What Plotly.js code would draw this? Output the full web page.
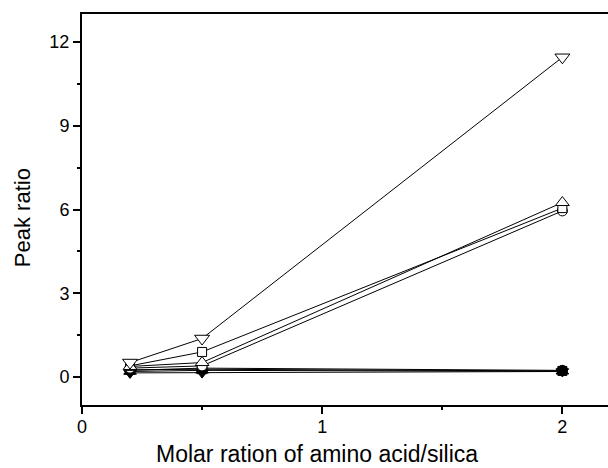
<!DOCTYPE html>
<html><head><meta charset="utf-8">
<script src="https://cdn.plot.ly/plotly-3.0.1.min.js"></script>
<style>html,body{margin:0;padding:0;background:#fff;overflow:hidden}</style>
</head><body><div id="chart" style="width:608px;height:468px"></div>
<script>
var xVals = [0.2, 0.5, 2];
var openDown = [0.52, 1.38, 11.45];
var openSquare = [0.40, 0.90, 6.05];
var openUp = [0.38, 0.52, 6.25];
var openCircle = [0.32, 0.40, 5.95];
var filledCircle = [0.24, 0.32, 0.24];
var filledSquare = [0.26, 0.28, 0.22];
var filledUp = [0.20, 0.24, 0.21];
var filledDown = [0.15, 0.16, 0.20];
var xTitle = 'Molar ration of amino acid/silica';
var yTitle = 'Peak ratio';

function tr(y, sym, filled, size) {
  return {x: xVals, y: y, type: 'scatter', mode: 'lines+markers',
    line: {color: '#000', width: 1},
    marker: {symbol: sym, size: size, color: filled ? '#000' : '#fff',
      line: {color: '#000', width: 1}},
    cliponaxis: false, showlegend: false};
}
var data = [
  tr(filledCircle, 'circle', true, 10),
  tr(filledSquare, 'square', true, 9),
  tr(filledUp, 'triangle-up', true, 11),
  tr(filledDown, 'triangle-down', true, 11),
  tr(openCircle, 'circle', false, 10),
  tr(openSquare, 'square', false, 9),
  tr(openUp, 'triangle-up', false, 12),
  tr(openDown, 'triangle-down', false, 13)
];
var f = {family: 'Liberation Sans, Arial, sans-serif', color: '#000'};
var layout = {
  width: 608, height: 468,
  margin: {l: 82, r: 0, t: 14, b: 63},
  paper_bgcolor: '#fff', plot_bgcolor: '#fff',
  xaxis: {range: [0, 2.19], tickvals: [0, 1, 2], ticktext: ['0', '1', '2'],
    showgrid: false, zeroline: false, showline: true, mirror: true,
    linecolor: '#000', linewidth: 2, ticks: 'outside', ticklen: 7, tickwidth: 2, tickcolor: '#000',
    ticklabelstandoff: -3,
    minor: {tickvals: [0.5, 1.5], ticks: 'outside', ticklen: 3, tickwidth: 2, tickcolor: '#000', showgrid: false},
    tickfont: Object.assign({size: 18}, f)},
  yaxis: {range: [-1, 13], tickvals: [0, 3, 6, 9, 12], ticktext: ['0', '3', '6', '9', '12'],
    showgrid: false, zeroline: false, showline: true,
    linecolor: '#000', linewidth: 2, ticks: 'outside', ticklen: 7, tickwidth: 2, tickcolor: '#000',
    minor: {tickvals: [1.5, 4.5, 7.5, 10.5], ticks: 'outside', ticklen: 3, tickwidth: 2, tickcolor: '#000', showgrid: false},
    tickfont: Object.assign({size: 18}, f)},
  annotations: [
    {text: xTitle, xref: 'paper', yref: 'paper', x: 0.447, y: -0.125,
     xanchor: 'center', yanchor: 'middle', showarrow: false, font: Object.assign({size: 23}, f)},
    {text: yTitle, xref: 'paper', yref: 'paper', x: -0.114, y: 0.478, textangle: -90,
     xanchor: 'center', yanchor: 'middle', showarrow: false, font: Object.assign({size: 22}, f)}
  ]
};
Plotly.newPlot('chart', data, layout, {displayModeBar: false, staticPlot: true});
</script></body></html>
